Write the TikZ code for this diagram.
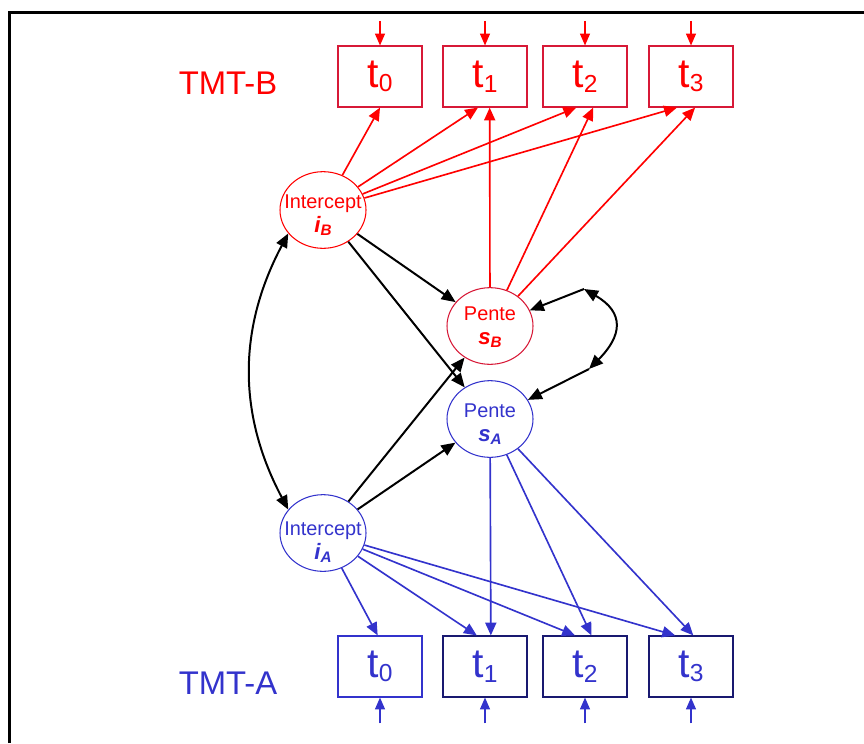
\documentclass[tikz,border=0pt]{standalone}
\usepackage{fontspec}
\setmainfont{Liberation Sans}
\usetikzlibrary{arrows.meta, shapes.geometric, positioning, calc}

\definecolor{tred}{RGB}{255,0,0}
\definecolor{boxred}{RGB}{215,25,55}
\definecolor{tblue}{RGB}{51,51,204}
\definecolor{navy}{RGB}{25,25,112}

\newcommand{\tidx}[1]{t\raisebox{-4pt}{\fontsize{21}{21}\selectfont #1}}
\newcommand{\latvar}[2]{{\fontsize{19}{19}\selectfont\bfseries\itshape #1\raisebox{-2pt}{\fontsize{13}{13}\selectfont #2}}}

\tikzset{
  obs/.style={rectangle, draw, line width=1pt, minimum width=2.52cm,
              minimum height=1.83cm, inner sep=0pt,
              font=\fontsize{35}{35}\selectfont},
  obsB/.style={obs, draw=boxred, text=tred},
  obsA/.style={obs, text=tblue},
  lat/.style={ellipse, draw, line width=0.9pt, minimum width=2.58cm,
              minimum height=2.3cm, inner sep=0pt},
  lattxt/.style={align=center, font=\fontsize{17}{21}\selectfont},
  tmt/.style={font=\fontsize{28}{28}\selectfont},
}

\begin{document}
\begin{tikzpicture}[x=0.03cm, y=0.03cm,
  redarr/.style={-{Triangle[length=11pt,width=9.5pt]}, tred, line width=1.4pt},
  bluarr/.style={-{Triangle[length=11pt,width=9.5pt]}, tblue, line width=1.4pt},
  blkarr/.style={-{Triangle[length=12pt,width=10pt]}, line width=1.7pt},
  biarr/.style={{Triangle[length=12pt,width=10pt]}-{Triangle[length=12pt,width=10pt]}, line width=1.7pt},
  inarr/.style={-{Triangle[length=10pt,width=8.5pt]}, line width=0.9pt},
]
  \useasboundingbox (0,0) rectangle (864,-743);
  \draw[line width=2pt] (9.5,-743) -- (9.5,-12.5) -- (864,-12.5);

  % mesures t0..t3
  \foreach \i/\x/\c in {0/380/tblue, 1/485/navy, 2/585/navy, 3/691/navy}{
    \node[obsB] (tb\i) at (\x,-76.5) {\tidx{\i}};
    \node[obsA, draw=\c] (ta\i) at (\x,-666.5) {\tidx{\i}};
    \coordinate (inB\i) at ([yshift=21pt]tb\i.north);
    \coordinate (inA\i) at ([yshift=-22pt]ta\i.south);
    \draw[inarr, tred] (inB\i) -- (tb\i);
    \draw[inarr, tblue] (inA\i) -- (ta\i);
  }

  \node[tmt, tred] (lblB) at (228,-83) {TMT-B};
  \node[tmt, tblue] (lblA) at (228,-683) {TMT-A};

  % facteurs latents
  \node[lat, draw=tred] (iB) at (323,-210) {};
  \node[lat, draw=boxred] (sB) at (490,-326) {};
  \node[lat, draw=tblue] (sA) at (490,-419) {};
  \node[lat, draw=tblue] (iA) at (323,-533) {};

  \node[lattxt, tred] (iBt) at ($(iB)+(0,-5)$) {Intercept\\\latvar{i}{B}};
  \node[lattxt, tred] (sBt) at ($(sB)+(0,-1)$) {Pente\\\latvar{s}{B}};
  \node[lattxt, tblue] (sAt) at ($(sA)+(0,-5)$) {Pente\\\latvar{s}{A}};
  \node[lattxt, tblue] (iAt) at ($(iA)+(0,-9)$) {Intercept\\\latvar{i}{A}};

  \draw[redarr] (iB) -- (tb0.south);
  \draw[redarr] (iB) -- ([xshift=-6pt]tb1.south);
  \draw[redarr] (iB) -- ([xshift=-7.5pt]tb2.south);
  \draw[redarr] (iB) -- ([xshift=-12pt]tb3.south);
  \draw[redarr] (sB) -- ([xshift=4pt]tb1.south);
  \draw[redarr] (sB) -- ([xshift=7pt]tb2.south);
  \draw[redarr] (sB) -- ([xshift=3.5pt]tb3.south);

  \draw[bluarr] (iA) -- ([xshift=-2pt]ta0.north);
  \draw[bluarr] (iA) -- ([xshift=-7pt]ta1.north);
  \draw[bluarr] (iA) -- ([xshift=-8.5pt]ta2.north);
  \draw[bluarr] (iA) -- ([xshift=-13.5pt]ta3.north);
  \draw[bluarr] (sA) -- ([xshift=5pt]ta1.north);
  \draw[bluarr] (sA) -- ([xshift=5.5pt]ta2.north);
  \draw[bluarr] (sA) -- ([xshift=2pt]ta3.north);

  \draw[blkarr] (iB) -- (sB);
  \draw[blkarr] (iB) -- (sA);
  \draw[blkarr] (iA) -- (sB);
  \draw[blkarr] (iA) -- (sA);
  \draw[biarr] (iB.214) to[bend right=28] (iA.146);

  \coordinate (cB) at (584,-289);
  \coordinate (cA) at (589,-369);
  \draw[biarr] (cB) to[out=-30, in=45, looseness=1.5] (cA);
  \draw[blkarr] (cB) -- (sB);
  \draw[blkarr] (cA) -- (sA);
\end{tikzpicture}
\end{document}
